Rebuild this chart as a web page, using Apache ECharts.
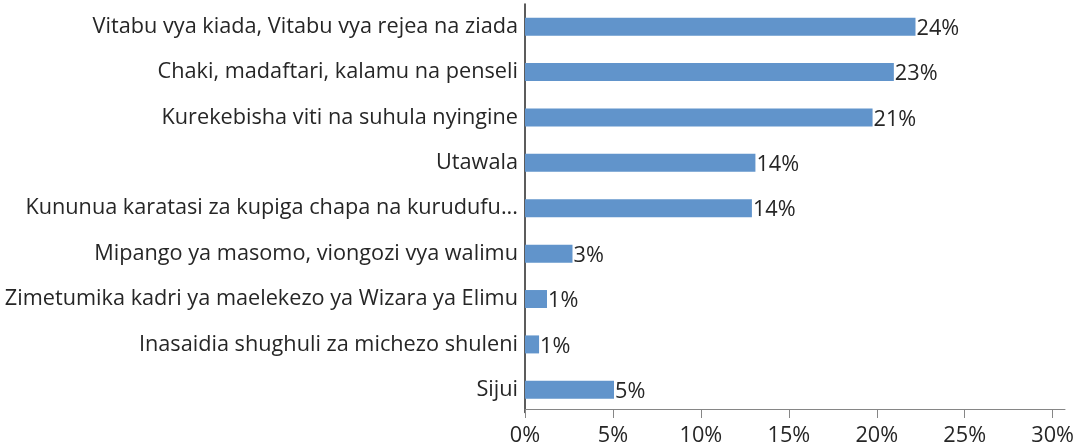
<!DOCTYPE html>
<html>
<head>
<meta charset="utf-8">
<script src="https://cdn.jsdelivr.net/npm/echarts@6/dist/echarts.min.js"></script>
<style>html,body{margin:0;padding:0;background:#fff}#c{width:1088px;height:448px}</style>
</head>
<body>
<div id="c"></div>
<script>
const categories = [
  "Vitabu vya kiada, Vitabu vya rejea na ziada",
  "Chaki, madaftari, kalamu na penseli",
  "Kurekebisha viti na suhula nyingine",
  "Utawala",
  "Kununua karatasi za kupiga chapa na kurudufu...",
  "Mipango ya masomo, viongozi vya walimu",
  "Zimetumika kadri ya maelekezo ya Wizara ya Elimu",
  "Inasaidia shughuli za michezo shuleni",
  "Sijui"
];
const barValues = [22.2, 20.97, 19.76, 13.1, 12.9, 2.7, 1.25, 0.8, 5.06];
const labelValues = [24, 23, 21, 14, 14, 3, 1, 1, 5];
const tickValues = [0, 5, 10, 15, 20, 25, 30];

const FONT = '"Open Sans"';
const FS = 21.7;
const chart = echarts.init(document.getElementById('c'));
chart.setOption({
  animation: false,
  grid: { left: 525, right: 23, top: 4, bottom: 35.5, containLabel: false },
  xAxis: {
    type: 'value', min: 0, max: 30.7, interval: 5, offset: -3.5,
    splitLine: { show: false },
    axisLine: { show: true, lineStyle: { color: '#868686', width: 1 } },
    axisTick: { show: true, length: 9, customValues: tickValues, lineStyle: { color: '#868686' } },
    axisLabel: { customValues: tickValues, formatter: v => v + '%', fontFamily: FONT, fontSize: FS, color: '#262626', margin: 16 }
  },
  yAxis: {
    type: 'category', inverse: true, data: categories,
    axisLine: { show: true, lineStyle: { color: '#262626', width: 1.5 } },
    axisTick: { show: false },
    axisLabel: { fontFamily: FONT, fontSize: FS, color: '#262626', margin: 7, padding: [3, 0, 0, 0] }
  },
  series: [{
    type: 'bar', data: barValues, barWidth: 18,
    itemStyle: { color: '#6194CB' },
    label: { show: true, position: 'right', distance: 1, offset: [0, 2], fontFamily: FONT, fontSize: FS, color: '#262626',
      formatter: p => labelValues[p.dataIndex] + '%' }
  }]
});
</script>
</body>
</html>
